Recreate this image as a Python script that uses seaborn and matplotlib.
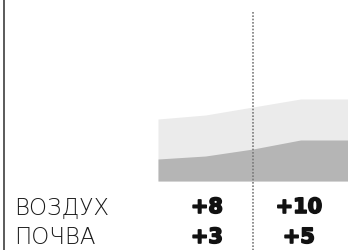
import numpy as np
import pandas as pd
import seaborn as sns
import matplotlib.pyplot as plt
import matplotlib.patheffects as pe

# area profile (height above baseline, px-ish units)
steps = [0, 1, 2, 3, 4]
air_top = [62, 66, 74, 82, 82]
soil_top = [22, 25, 32, 41, 41]

rows = ["ВОЗДУХ", "ПОЧВА"]
col_left = ["+8", "+3"]
col_right = ["+10", "+5"]

df = pd.DataFrame({"step": steps, "air": air_top, "soil": soil_top})

sns.set_style("white")
plt.rcParams['font.family'] = ['DejaVu Sans']

fig = plt.figure(figsize=(3.48, 2.5), dpi=100)

# background axes for the rules
bg = fig.add_axes([0, 0, 1, 1])
bg.set_xlim(0, 348)
bg.set_ylim(250, 0)
bg.axis("off")
bg.axvline(3.5, color="#4d4d4d", lw=1.3)
bg.plot([253, 253], [12, 250], color="#7a7a7a", lw=1.2, ls=(0, (1, 1)))

# area chart
ax = fig.add_axes([158 / 348, 69 / 250, 190 / 348, 100 / 250])
ax.fill_between(df["step"], 0, df["air"], color="#ebebeb", lw=0)
ax.fill_between(df["step"], 0, df["soil"], color="#b5b5b5", lw=0)
ax.set_xlim(0, 4)
ax.set_ylim(0, 100)
ax.axis("off")
ax.set_zorder(0)
bg.set_zorder(1)
bg.patch.set_visible(False)

thick = [pe.withStroke(linewidth=1.2, foreground="#111111")]
row_y = [207, 237]
for name, a, b, y in zip(rows, col_left, col_right, row_y):
    bg.text(14, y + 1, name, fontsize=16.5, color="#1a1a1a", ha="left", va="center",
            fontweight="ultralight")
    bg.text(207, y, a, fontsize=15, color="#111111", ha="center", va="center",
            fontweight="bold", path_effects=thick)
    bg.text(299, y, b, fontsize=15, color="#111111", ha="center", va="center",
            fontweight="bold", path_effects=thick)

fig.savefig("out.png", dpi=100)
